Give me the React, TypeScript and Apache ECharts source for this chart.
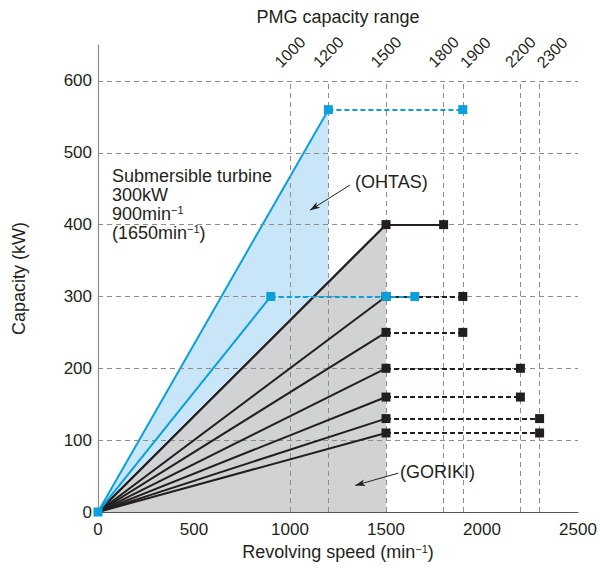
import React, { useEffect, useRef } from 'react';
import * as echarts from 'echarts';

// ---- data ----
const xTicksInterval = 500;
const yTicksInterval = 100;
const pmgSpeedMarks = [1000, 1200, 1500, 1800, 1900, 2200, 2300];
// labels that sit just right of a neighbour are drawn on a second, shifted label row
const pmgSpeedMarksShifted = [1900, 2300];
const ratedSpeed = 1500;
const pmgCapacities = [400, 300, 250, 200, 160, 130, 110];
const pmgMaxSpeeds = [1800, 1900, 1900, 2200, 2200, 2300, 2300];
const gridCapacities = [100, 200, 300, 400, 500, 600];
const turbineUpper = [[0, 0], [1200, 560]];
const turbineUpperRange = [[1200, 560], [1900, 560]];
const turbineLower = [[0, 0], [900, 300]];
const turbineLowerRange = [[900, 300], [1650, 300]];
const turbineMarks = [[0, 0], [1200, 560], [1900, 560], [900, 300], [1500, 300], [1650, 300]];
const ohtasArrow = [[1312, 455], [1104, 420]];
const gorikiArrow = [[1563, 54], [1339, 37]];

const FONT = '"Liberation Sans", Arial, Helvetica, sans-serif';
const INK = '#231f20';
const BLUE = '#0aa0dc';
const BLUE_FILL = '#c8e6f7';
const GRAY_FILL = '#d1d2d4';
const GRID = '#8c8c8c';

export default function App() {
  const ref = useRef<HTMLDivElement>(null);
  useEffect(() => {
    if (!ref.current) return;
    document.body.style.margin = '0';
    const chart = echarts.init(ref.current, undefined, { renderer: 'svg' });
    const sup = { fontSize: 11, verticalAlign: 'top', fontFamily: FONT, color: INK };

    const blackMarks: number[][] = [];
    pmgCapacities.forEach((c, i) => {
      blackMarks.push([ratedSpeed, c]);
      blackMarks.push([pmgMaxSpeeds[i], c]);
    });

    const gridLines: any[] = [];
    gridCapacities.forEach((c) => gridLines.push([{ coord: [0, c] }, { coord: [2500, c] }]));
    pmgSpeedMarks.forEach((s) => gridLines.push([{ coord: [s, 0] }, { coord: [s, 600] }]));

    const topAxisBase = (values: number[], align: string, margin: number) => ({
      type: 'value',
      position: 'top',
      min: 0,
      max: 2500,
      offset: -34,
      axisLine: { show: false },
      axisTick: { show: false },
      splitLine: { show: false },
      axisLabel: {
        customValues: values,
        rotate: -45,
        fontSize: 16,
        margin,
        align,
        verticalAlign: 'middle',
        color: INK,
        fontFamily: FONT,
        hideOverlap: false,
        showMinLabel: true,
        showMaxLabel: true,
        formatter: (v: number) => String(v),
      },
    });

    const option: any = {
      animation: false,
      textStyle: { fontFamily: FONT },
      grid: { left: 98, right: 22, top: 45, bottom: 56 },
      xAxis: [
        {
          type: 'value',
          min: 0,
          max: 2500,
          interval: xTicksInterval,
          axisLine: { show: true, lineStyle: { color: '#555', width: 1.2 } },
          axisTick: { show: false },
          splitLine: { show: false },
          axisLabel: { fontSize: 17, color: INK, margin: 9, fontFamily: FONT, formatter: (v: number) => String(v) },
          name: 'Revolving speed (min{sup|−1})',
          nameLocation: 'middle',
          nameGap: 31,
          nameTextStyle: { fontSize: 18, color: INK, fontFamily: FONT, rich: { sup } },
        },
        {
          ...topAxisBase(pmgSpeedMarks.filter((v) => !pmgSpeedMarksShifted.includes(v)), 'center', 27),
          name: 'PMG capacity range',
          nameLocation: 'middle',
          nameGap: 53,
          nameTextStyle: { fontSize: 18, color: INK, fontFamily: FONT },
        },
        topAxisBase(pmgSpeedMarksShifted, 'left', 14),
      ],
      yAxis: {
        type: 'value',
        min: 0,
        max: 650,
        interval: yTicksInterval,
        axisLine: { show: true, lineStyle: { color: GRID, width: 1.2 } },
        axisTick: { show: false },
        splitLine: { show: false },
        axisLabel: {
          fontSize: 17,
          color: INK,
          margin: 6,
          fontFamily: FONT,
          formatter: (v: number) => (v > 600 ? '' : String(v)),
        },
        name: 'Capacity (kW)',
        nameLocation: 'middle',
        nameGap: 70,
        nameTextStyle: { fontSize: 18, color: INK, fontFamily: FONT },
      },
      series: [
        {
          type: 'line',
          data: turbineUpper,
          showSymbol: false,
          lineStyle: { color: BLUE, width: 2 },
          areaStyle: { color: BLUE_FILL, opacity: 1 },
          z: 1,
        },
        {
          type: 'line',
          data: [[0, 0], [ratedSpeed, pmgCapacities[0]]],
          showSymbol: false,
          lineStyle: { color: INK, width: 2 },
          areaStyle: { color: GRAY_FILL, opacity: 1 },
          z: 2,
        },
        {
          type: 'line',
          data: [],
          silent: true,
          z: 3,
          markLine: {
            silent: true,
            symbol: ['none', 'none'],
            label: { show: false },
            lineStyle: { color: GRID, type: [5, 4], width: 1 },
            data: gridLines,
          },
        },
        {
          type: 'lines',
          coordinateSystem: 'cartesian2d',
          z: 5,
          lineStyle: { color: INK, width: 2, opacity: 1 },
          data: pmgCapacities.map((c) => ({ coords: [[0, 0], [ratedSpeed, c]] })),
        },
        {
          type: 'lines',
          coordinateSystem: 'cartesian2d',
          z: 5,
          lineStyle: { color: INK, width: 2, opacity: 1 },
          data: [{ coords: [[ratedSpeed, pmgCapacities[0]], [pmgMaxSpeeds[0], pmgCapacities[0]]] }],
        },
        {
          type: 'lines',
          coordinateSystem: 'cartesian2d',
          z: 5,
          lineStyle: { color: INK, width: 2, type: [5, 3], opacity: 1 },
          data: pmgCapacities.slice(1).map((c, i) => ({
            coords: [[ratedSpeed, c], [pmgMaxSpeeds[i + 1], c]],
          })),
        },
        {
          type: 'lines',
          coordinateSystem: 'cartesian2d',
          z: 6,
          lineStyle: { color: BLUE, width: 2, opacity: 1 },
          data: [{ coords: turbineLower }],
        },
        {
          type: 'lines',
          coordinateSystem: 'cartesian2d',
          z: 6,
          lineStyle: { color: BLUE, width: 2, type: [5, 3], opacity: 1 },
          data: [{ coords: turbineUpperRange }, { coords: turbineLowerRange }],
        },
        {
          type: 'scatter',
          data: blackMarks,
          symbol: 'rect',
          symbolSize: 9,
          itemStyle: { color: INK, opacity: 1 },
          z: 7,
        },
        {
          type: 'scatter',
          data: turbineMarks,
          symbol: 'rect',
          symbolSize: 9,
          itemStyle: { color: BLUE, opacity: 1 },
          z: 8,
        },
        {
          type: 'line',
          data: [],
          silent: true,
          z: 9,
          markLine: {
            silent: true,
            symbol: ['none', 'arrow'],
            symbolSize: [5, 10],
            label: { show: false },
            lineStyle: { color: INK, type: 'solid', width: 1 },
            data: [
              [{ coord: ohtasArrow[0] }, { coord: ohtasArrow[1] }],
              [{ coord: gorikiArrow[0] }, { coord: gorikiArrow[1] }],
            ],
          },
        },
      ],
      graphic: [
        {
          type: 'text',
          x: 112,
          y: 166,
          z: 20,
          style: {
            text: 'Submersible turbine\n300kW\n900min{sup|−1}\n(1650min{sup|−1})',
            fill: INK,
            fontSize: 18,
            fontFamily: FONT,
            lineHeight: 19,
            verticalAlign: 'top',
            align: 'left',
            rich: { sup: { fontSize: 11, verticalAlign: 'top', fill: INK, fontFamily: FONT, lineHeight: 19 } },
          },
        },
        {
          type: 'text',
          x: 355,
          y: 182,
          z: 20,
          style: { text: '(OHTAS)', fill: INK, fontSize: 18, fontFamily: FONT, verticalAlign: 'middle', align: 'left' },
        },
        {
          type: 'text',
          x: 400,
          y: 472,
          z: 20,
          style: { text: '(GORIKI)', fill: INK, fontSize: 18, fontFamily: FONT, verticalAlign: 'middle', align: 'left' },
        },
      ],
    };
    chart.setOption(option);
    return () => chart.dispose();
  }, []);
  return <div ref={ref} style={{ width: 600, height: 568 }} />;
}
